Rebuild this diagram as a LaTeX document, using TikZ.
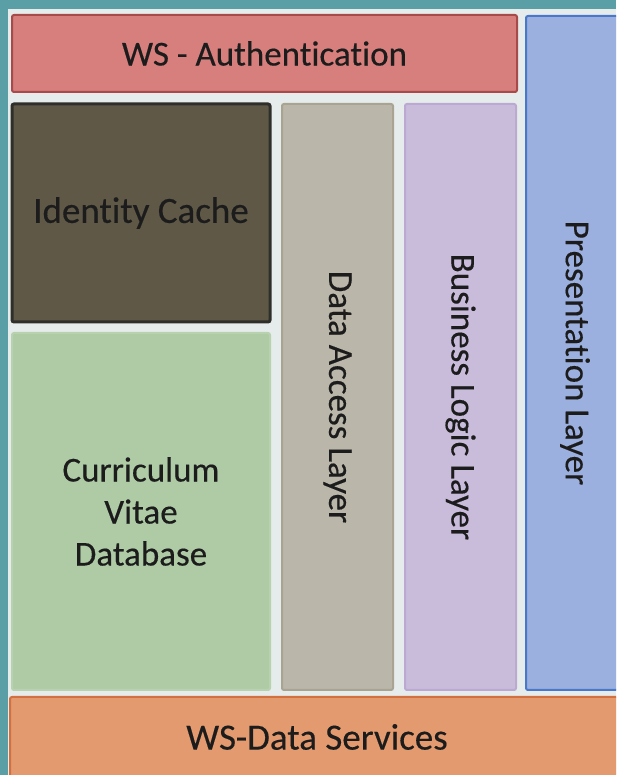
\documentclass[tikz,border=0pt]{standalone}
\usepackage{fontspec}
\setmainfont{Carlito}[Ligatures=NoCommon]
\newfontfamily\boxfont{Carlito}[Ligatures=NoCommon, UprightFeatures={FakeBold=0.35}]
\usepackage{xcolor}
\usetikzlibrary{positioning}

\definecolor{teal bg}{HTML}{5A9EA6}
\definecolor{panel}{HTML}{E6ECEC}
\definecolor{authfill}{HTML}{D67F7C}
\definecolor{authline}{HTML}{A84A4A}
\definecolor{presfill}{HTML}{9CB0DF}
\definecolor{presline}{HTML}{4A78C8}
\definecolor{cachefill}{HTML}{5F5847}
\definecolor{cacheline}{HTML}{2E2E2A}
\definecolor{dalfill}{HTML}{BBB6AA}
\definecolor{dalline}{HTML}{A9A392}
\definecolor{bllfill}{HTML}{C9BCDB}
\definecolor{bllline}{HTML}{BBA9D1}
\definecolor{dbfill}{HTML}{AECBA6}
\definecolor{dbline}{HTML}{B8D2B0}
\definecolor{dsfill}{HTML}{E39A6E}
\definecolor{dsline}{HTML}{D2703F}
\definecolor{ink}{HTML}{1C1C1C}

\tikzset{
  layer/.style={rectangle, draw, line width=1pt, rounded corners=1pt, inner sep=0pt,
    text=ink, align=center, font=\boxfont\fontsize{17.5}{21}\selectfont},
  vlayer/.style={layer, rotate=-90},
}

\begin{document}
\begin{tikzpicture}[x=0.5pt, y=0.5pt]
    \useasboundingbox (0,0) rectangle (616,775);
    \clip (0,0) rectangle (616,775);
    \fill[teal bg] (0,0) rectangle (616,775);
    \fill[panel] (8,-5) rectangle (630,766);

    % top and bottom services
    \node[layer, fill=authfill, draw=authline, minimum width=252.5pt, minimum height=38.5pt] (auth) at (264.5,721.5) {WS - Authentication};
    \node[layer, fill=dsfill, draw=dsline, minimum width=307pt, minimum height=40pt, font=\boxfont\fontsize{18.5}{22}\selectfont] (ds) at (317,38) {WS-Data Services};

    % storage
    \node[layer, fill=cachefill, draw=cacheline, line width=1.5pt, minimum width=129pt, minimum height=109pt, font=\boxfont\fontsize{18.5}{22}\selectfont] (cache) at (141,562) {Identity Cache};
    \node[layer, fill=dbfill, draw=dbline, minimum width=129pt, minimum height=178.5pt] (cvdb) at (141,263.5) {Curriculum\\Vitae\\Database};

    % vertical layers
    \node[vlayer, fill=dalfill, draw=dalline, minimum width=293pt, minimum height=55.5pt] (dal) at (337.5,378) {Data Access Layer};
    \node[vlayer, fill=bllfill, draw=bllline, minimum width=293pt, minimum height=55.5pt] (bll) at (460.5,378) {Business Logic Layer};
    \node[vlayer, fill=presfill, draw=presline, minimum width=337pt, minimum height=49pt] (pres) at (575,422) {Presentation Layer};
\end{tikzpicture}
\end{document}
